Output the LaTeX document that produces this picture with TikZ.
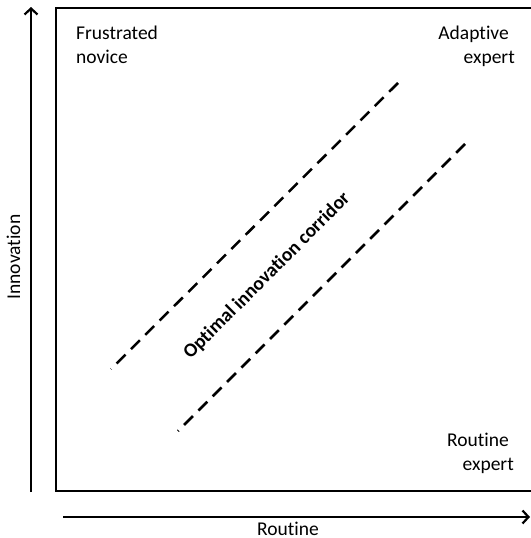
\documentclass[tikz,border=0pt]{standalone}
\usepackage{fontspec}
\setmainfont{Carlito}[Ligatures=NoCommon]
\usetikzlibrary{arrows.meta}
\begin{document}
\begin{tikzpicture}[x=1pt,y=-1pt,
  lbl/.style={inner sep=0pt,font=\fontsize{19.5}{23.5}\selectfont},
  axis/.style={line width=2.4pt,-{Straight Barb[length=6pt,width=13pt,line width=2.2pt]}},
  frameline/.style={line width=2.7pt},
  corridor/.style={line width=2.5pt,dash pattern=on 12.5pt off 7.75pt}]
\useasboundingbox (0,0) rectangle (530,538);
% frame
\coordinate (ftr) at (534,8);
\coordinate (ftl) at (56,8);
\coordinate (fbl) at (56,491);
\coordinate (fbr) at (534,491);
\draw[frameline] (ftr) -- (ftl) -- (fbl) -- (fbr);
% axes
\coordinate (ys) at (31,492);
\coordinate (ye) at (31,7);
\coordinate (xs) at (63,517);
\coordinate (xe) at (530,517);
\draw[axis] (ys) -- (ye);
\draw[axis] (xs) -- (xe);
% axis labels
\node[lbl,anchor=base] (xl) at (288,535) {Routine};
\node[lbl,anchor=base,rotate=90] (yl) at (20,257) {Innovation};
% corner labels
\node[lbl,anchor=base west] (fn1) at (76,39.5) {Frustrated};
\node[lbl,anchor=base west] (fn2) at (76,63) {novice};
\node[lbl,anchor=base east] (ae1) at (509,39.5) {Adaptive};
\node[lbl,anchor=base east] (ae2) at (515,63) {expert};
\node[lbl,anchor=base east] (re1) at (509,446.5) {Routine};
\node[lbl,anchor=base east] (re2) at (514,470) {expert};
% corridor
\coordinate (u1) at (398,83);
\coordinate (u2) at (111,369);
\coordinate (l1) at (465,144);
\coordinate (l2) at (178,431);
\draw[corridor] (u1) -- (u2);
\draw[corridor] (l1) -- (l2);
\node[lbl,font=\fontsize{19.5}{23.5}\selectfont\bfseries,rotate=45] (oc) at (267,276) {Optimal innovation corridor};
\end{tikzpicture}
\end{document}
